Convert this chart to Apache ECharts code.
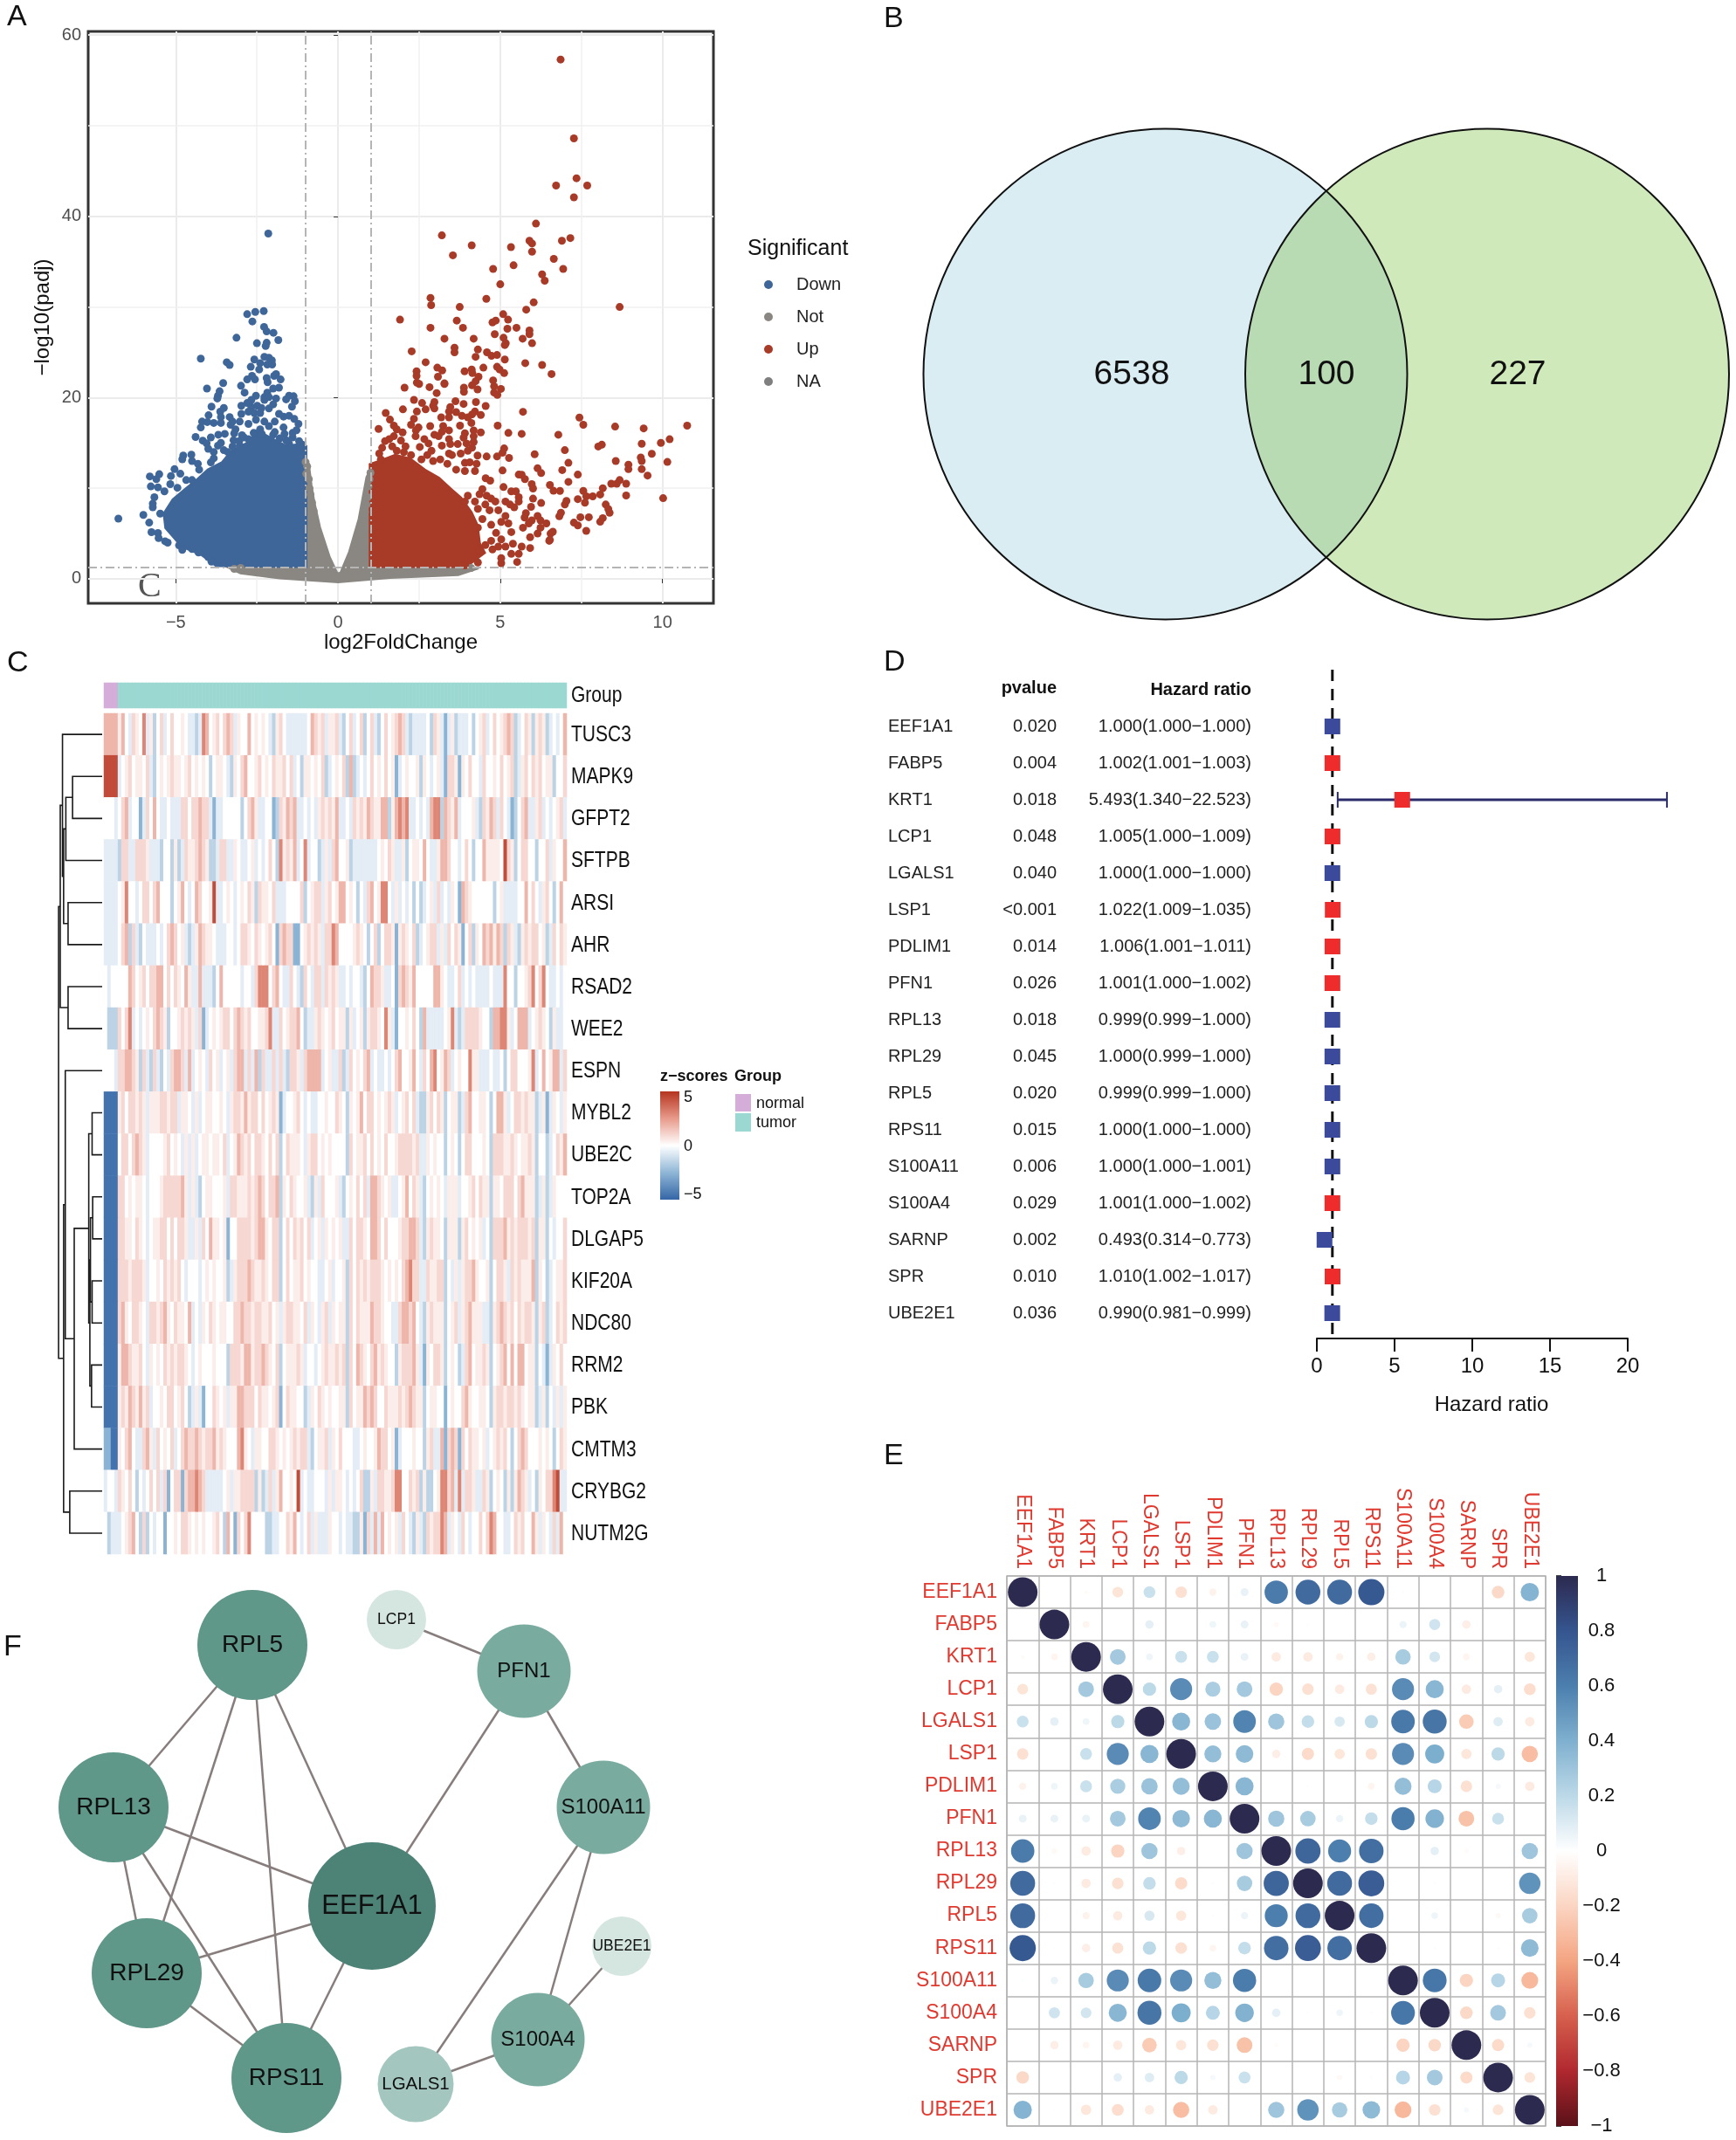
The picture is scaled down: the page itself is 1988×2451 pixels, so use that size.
<!DOCTYPE html>
<html><head><meta charset="utf-8"><title>Panels</title>
<style>html,body{margin:0;padding:0;background:#fff}#c{width:1988px;height:2451px}</style>
<script src="https://cdn.jsdelivr.net/npm/echarts@6/dist/echarts.min.js"></script></head>
<body><div id="c"></div>
<script>
// ---------- DATA ----------
const volcanoNot=[[-1,12.9],[-.95,12.4],[-.98,11.6],[-.9,11],[-.88,10],[-.85,9.3],[-.8,8.4],[-.75,7.5],[1,11.7],[.97,11],[.94,10.2],[.92,9],[.88,8.2],[.83,7.4],[-3.2,1.1],[-3,1.2],[3.9,1.3],[4.1,1.2]];
const volcanoNotCore=[[-1,12.6],[-.92,12.6],[-.84,10.3],[-.75,8.4],[-.58,5.7],[-.28,2.4],[-.03,.5],[.09,.6],[.36,2.9],[.66,6.6],[.8,9.3],[.9,11.2],[1,11.9],[1,1.5],[3.9,1.5],[4.2,1.1],[3.7,.5],[1.6,.2],[0,-.3],[-1.8,.15],[-3,.7],[-3.3,1.2],[-1,1.5]];
const volcanoDownCore=[[-1,14.6],[-1.15,14.8],[-1.59,14.6],[-2.04,15.4],[-2.49,16.3],[-2.76,15],[-3.29,14],[-3.56,12.8],[-4,12],[-4.37,10.8],[-4.72,9.8],[-5.08,8.7],[-5.35,7.2],[-5.3,5.65],[-5,4.4],[-4.8,3.6],[-4.2,2.7],[-3.75,1.5],[-1,1.4]];
const volcanoUpCore=[[1,12.6],[1.32,13],[1.76,13.6],[2.21,13.2],[2.66,12],[3.1,11.1],[3.46,9.9],[3.78,8.9],[4.1,7.3],[4.28,5.9],[4.35,3.9],[4.5,2.9],[4.09,1.8],[3.82,1.4],[1,1.4]];
const volcanoDown=[[-2.15,38.1],[-2.8,29.2],[-2.55,29.45],[-2.29,29.55],[-2.64,28.4],[-2.28,27.8],[-2.2,27.3],[-1.99,27.15],[-1.84,26.35],[-3.13,26.6],[-2.5,26],[-2.2,26.05],[-2.23,25.7],[-4.23,24.3],[-3.43,23.9],[-3.34,23.6],[-2.58,24.2],[-2.27,24.5],[-2.13,24.4],[-2.04,24.1],[-2.4,23.8],[-2.18,23.65],[-2.03,23.65],[-2.69,23.4],[-2.43,23.1],[-1.91,22.6],[-1.97,22.4],[-1.77,22],[-2.65,22.4],[-2.8,22],[-2.56,22],[-2.2,22.15],[-2.17,21.7],[-3.54,21.6],[-2.99,21.3],[-4.04,21],[-3.65,20.7],[-2.88,20.55],[-3.7,20.2],[-3.72,19.9],[-1.82,21.1],[-2,21],[-2.18,20.55],[-2.27,20.05],[-2.53,20.2],[-1.51,20.2],[-1.37,20.15],[-1.6,19.8],[-1.33,19.6],[-1.42,19],[-2.67,19.75],[-2.8,19.4],[-2.98,19.1],[-2.27,19.75],[-2.13,20.05],[-1.91,19.9],[-2,19.25],[-2.13,18.8],[-3.9,19],[-3.52,18.85],[-3.63,18.45],[-2.67,18.95],[-2.49,19.1],[-2.36,18.85],[-2.76,18.45],[-2.58,18.3],[-2.4,18.3],[-3.99,18.05],[-1.82,18.2],[-1.68,17.9],[-1.51,18],[-1.35,17.65],[-3.61,17.85],[-3.34,17.85],[-2.98,18.2],[-4.19,17.35],[-4.03,17.3],[-3.83,17.2],[-3.61,17.2],[-3.25,17.35],[-3.03,17.35],[-2.76,17.1],[-2.53,17.55],[-2.27,17.35],[-1.95,17.35],[-1.22,17.1],[-4.23,16.7],[-3.31,17],[-3.16,16.5],[-2.4,16.5],[-2.13,16.85],[-1.68,16.7],[-1.28,16.4],[-3.2,16.05],[-3.69,15.9],[-3.49,16],[-2.96,15.85],[-4.39,15.65],[-3.92,15.6],[-4.17,15.25],[-3.22,15.3],[-2.76,15.4],[-4.05,14.95],[-3.61,15],[-3.7,14.7],[-4,14.35],[-3.25,14.6],[-3.03,14.7],[-1.51,14.9],[-1.13,14.7],[-3.52,14.2],[-3.83,14],[-4.52,13.7],[-4.77,13.6],[-4.8,13.2],[-3.29,13.7],[-3.83,13.3],[-3.92,12.85],[-4.5,13],[-4.32,12.7],[-4.28,12.05],[-5.04,12.1],[-5.15,11.35],[-5.51,11.55],[-5.8,11.3],[-5.6,11],[-4.86,11.6],[-4.68,10.9],[-4.5,10.9],[-5.77,10.2],[-5.55,10.1],[-4.95,10.05],[-5.17,10.45],[-5.35,9.65],[-5.66,9],[-5.71,8.3],[-5.71,7.9],[-6,7.05],[-5.48,7.2],[-5.82,6.2],[-6.77,6.65],[-5.75,5.15],[-5.55,5.05],[-5.53,4.5],[-5.33,4.15],[-5.25,4],[-4.9,3.7],[-4.8,3.2],[-4.5,3.3],[-4.3,2.9],[-4,2.4],[-3.7,2.2],[-3.9,1.9],[-3.3,1.7],[-3.05,15.2],[-2.9,15.6],[-2.35,16],[-2,15.9],[-1.8,15.5],[-1.6,15.3],[-1.4,15.6],[-1.2,15.2],[-1.1,14.8],[-3.4,14],[-2.6,16.1],[-1.95,16.2],[-1.65,16],[-1.4,16.1]];
const volcanoUp=[[6.86,57.3],[7.27,48.6],[7.35,44.2],[6.72,43.4],[7.68,43.4],[7.27,42.1],[6.1,39.2],[3.2,37.9],[7.16,37.6],[6.9,37.3],[5.9,37.3],[5.98,37],[4.12,36.8],[5.33,36.6],[5.98,36.1],[3.54,35.7],[6.65,35.3],[5.41,34.6],[6.94,34.2],[4.78,34.2],[6.29,33.6],[6.37,32.9],[5,32.5],[2.85,31],[4.57,30.9],[6.03,30.5],[2.87,30.2],[3.75,30],[8.68,30],[5.8,29.7],[5.09,29.2],[5.24,28.6],[4.86,28.5],[4.76,28.3],[1.91,28.6],[3.66,28.5],[5.5,27.7],[5.22,27.6],[3.85,27.7],[2.85,27.7],[5.9,27.4],[5.9,27],[4.83,27],[3.28,26.5],[4.18,26.5],[5.1,26.6],[5.69,26.5],[5.17,26],[5.14,25.8],[5.98,26],[3.59,25.5],[3.59,25],[2.27,25.1],[4.31,25.3],[4.59,25],[4.24,24.5],[4.73,24.6],[4.9,24.7],[2.7,23.9],[5.77,23.8],[6.29,23.6],[5.14,24.2],[4.9,23.4],[4.98,23.1],[4.12,23.1],[4.48,23.3],[3.06,23.3],[3.9,22.9],[4.14,22.7],[3.21,23],[2.42,22.9],[2.42,22.4],[5.12,22.7],[6.58,22.6],[4.33,22.3],[3.08,22.3],[3.28,21.5],[4.78,21.9],[4.24,21.8],
[2.43,21.65],[2.5,21.5],[3.28,21.57],[4.13,21.35],[2.05,21.1],[2.82,21.15],[3.88,21.1],[3.88,20.64],[4.3,20.9],[4.81,21.25],[5.02,20.96],[3.04,20.5],[4.81,20.55],[4.91,20.3],[2.34,19.75],[2.59,19.4],[2.97,19.5],[2.93,19.1],[3.62,19.6],[3.87,19.3],[4.25,19.5],[4.55,19.07],[3.46,18.95],[2,18.7],[2.7,18.7],[2.43,18.46],[2.97,18.8],[1.47,18.3],[3.42,18.46],[3.64,18.4],[5.7,18.43],[4.22,18.46],[4.13,18.14],[4.4,18.08],[3.18,17.82],[3.42,17.82],[3.82,17.98],[4,17.82],[1.6,17.57],[2.34,17.66],[1.72,16.9],[2.25,17],[4.11,17.2],[3.76,16.9],[4.92,16.9],[1.25,16.54],[2.48,16.7],[2.84,16.86],[3.24,16.86],[1.81,16.5],[1.99,16.16],[2.4,16.38],[3.2,16.22],[3.42,16.38],[4.18,16.38],[4.4,16.16],[5.25,16.1],[5.66,16],[1.72,15.74],[1.58,15.42],[2.39,15.74],[3.91,16.06],[3.87,15.58],[2.66,15.42],[2.97,15.9],[3.1,15.74],[3.42,15.42],[4.18,15.74],[1.94,15.26],[1.45,15.2],[1.36,14.46],[1.27,13.82],[1.67,14.62],[1.81,14.14],[2.08,14.62],[2.52,14.55],[2.79,14.94],[3.2,14.7],[3.46,14.87],[3.69,14.87],[3.96,14.94],[4.18,15.1],[2.88,14.14],[4,14.14],[4.13,14.46],[5.12,14.39],[5.07,13.91],[5.27,13.34],[6.06,13.75],[3.78,13.82],[3.42,13.82],[4.3,13.6],[4.58,13.5],[4.9,13.5],[2.75,13.66],[2.25,13.66],[2.03,13.98],[3.15,13.18],[3.51,13.66],[1.32,13.18],[2.57,13.18],[2.93,13],[3.37,12.7],[3.91,12.8],[4.06,12.86],[4.27,12.7],[4.22,11.9],[3.91,11.9],[3.64,12.05],[6.15,12.2],[6.26,11.67],[5.07,11.96],[5.57,11.5],[5.66,11.48],[5.76,11],[4.55,11.1],[4.69,10.84],[5.97,10.45],[6.01,9.97],[6.53,10.35],[6.64,9.72],[5.1,10.13],[5.34,9.65],[5.48,9.65],[5.57,9],[5.57,8.53],[5.16,8.53],[5.3,8.2],[5.43,7.9],[6.01,8.85],[6.26,8.37],[5.95,7.95],[4.45,9.9],[4.36,9.33],[4.58,9.17],[4.72,8.85],[4.85,8.53],[4.22,8.53],[4.54,8.2],[4,9.17],[3.91,8.53],[4.31,7.73],[4.67,7.57],[4.94,7.57],[5.16,6.93],[5.79,7.25],[5.75,6.77],[6.15,6.93],[5.97,6.44],[6.24,6.44],[6.42,6.12],[5.88,6.12],[5.7,5.64],[6.24,5.64],[6.15,5],[4.45,6.6],[4.72,5.96],[5.03,6.28],[5.25,6.12],[5.34,5.16],[4.31,5.64],[4.87,5.07],[6.55,5],[6.51,4.2],[5.92,4.6],[5.03,4.36],[4.72,4.2],[4.94,3.56],[5.16,3.56],[5.39,3.88],[5.66,3.56],[5.92,3.4],[4.54,3.72],[5.57,2.76],[5.34,2.76],[5.03,2.28],[5.52,1.86],[4.31,1.8],[5.03,1.73],[3.91,1.48],[4.36,3.08],[4.76,3.24],
[7.44,17.8],[7.56,17],[8.54,16.8],[9.42,16.6],[10.76,16.9],[6.79,15.9],[9.36,14.9],[9.95,15],[10.22,15.4],[8.13,14.8],[8.02,14.6],[6.99,14.2],[9.67,13.8],[9.33,13.4],[9.36,13],[10.15,12.9],[8.56,13],[7.1,12.8],[8.95,12.6],[8.95,12.1],[9.36,12.1],[9.54,11.4],[6.91,12],[7.39,11.5],[7.1,10.7],[8.68,10.9],[8.59,10.5],[8.42,10.5],[8.88,10.5],[8.16,10],[6.84,9.7],[7.56,9.7],[7.65,9.1],[7.39,8.8],[7.61,8.4],[7.85,9.1],[8.08,9.3],[8.88,9.2],[10.02,8.9],[7.04,8.6],[6.99,8.2],[8.25,8.2],[8.33,7.7],[8.37,7.3],[6.87,7.3],[6.82,6.9],[7.47,6.8],[7.73,6.8],[8.16,6.7],[8.08,6.3],[7.27,6.2],[7.39,5.9],[7.65,5.3],[6.62,5.2],[6.53,4.3]];
const volcanoNA=[];
const volcanoTicksX=[-5,0,5,10], volcanoTicksY=[0,20,40,60];
const volcanoMinorX=[-2.5,2.5,7.5], volcanoMinorY=[10,30,50];
const volcanoCutsX=[-1,1], volcanoCutY=1.3;

const vennSets=[{name:'DEGs',c:[284.5,288.5],rx:277,ry:281,color:'#daedf2'},{name:'LRGs',c:[653,288.5],rx:277,ry:281,color:'#d0e9bb'}];
const vennOverlapColor='#b9dbb4';
const vennLabels=[{t:'DEGs',p:[248,-64]},{t:'LRGs',p:[689,-64]},{t:'6538',p:[246,289]},{t:'100',p:[469,289]},{t:'227',p:[688,289]}];

const heatGenes=['TUSC3','MAPK9','GFPT2','SFTPB','ARSI','AHR','RSAD2','WEE2','ESPN','MYBL2','UBE2C','TOP2A','DLGAP5','KIF20A','NDC80','RRM2','PBK','CMTM3','CRYBG2','NUTM2G'];
const zLevels=[-4.6,-2.6,-1.5,-.6,0,.45,1,1.8,3,4.4];
const heatRows=[
"7777574365 4835246346 4454332387 4564676354 4745454325 6433333347 656355 6324634624 6324645676 3233334265 3135233342 4563464567 6234652565 234347",
"9999345645 5463245456 5545645454 2455432546 7445645465 5646342554 546234 5462723434 6454645134 5445254345 3166515464 4364454645 6235646564 552446",
"4443467344 1364743343 3366466766 3133444442 4675334412 6576733434 356565 7334365657 6557725787 8334343788 2765734445 3265763643 1246733563 434563",
"3333266336 6653332442 5236556765 2236633543 3453434642 8565734834 423536 7445233333 3345465335 2455474335 7764434642 4475555496 5246644244 635447",
"3333458443 4664674442 4574347644 5933454345 4652655463 3344446245 663564 5774542436 7458843534 3424234536 3435417654 4444424533 3344746435 642474",
"3333467263 2433343467 6453235765 5433344346 6546545641 6766114565 653668 7444456542 4624665156 5462345663 5364651462 5476757626 5325656645 236465",
"4344444764 5646677464 6547533733 3247444443 4436888467 4336432643 663656 5334344324 7665334167 6574444477 5433463434 3333433384 4244568468 433434",
"4222646834 3454676524 4565653613 4545664676 5644556833 6456674233 565456 4552534525 6654853144 5464273333 3458323666 6544277885 3477734565 425334",
"4443667765 2632632436 7763734543 6453453677 3637263363 6326653677 773453 3623645467 3433434674 4574364784 5763454485 5333433424 6644458347 457736",
"0000564665 6535556656 6355435345 5445435665 7566464565 1344564343 344544 6542545746 6454565345 6463225646 5245523674 4554247753 4665655235 135435",
"0000466467 6534444564 5435353455 4554634576 5646654646 2465554356 645454 4442645564 6454644566 6656335454 4245424664 4454266655 6545565244 234657",
"0000664545 5434445666 6675353245 5444536655 5656764667 2546544532 536444 5324546463 7765453345 7465324545 4355534456 4655255466 6467555235 235444",
"0000665546 5434556646 4665335364 7554514466 6656775466 2464656463 453545 4533646654 7764644456 6776325655 4255525645 4534266675 6566656255 243446",
"0000666566 6534454656 5643444345 4544523566 6765565466 2464556454 433453 4452646565 6665454546 7866336556 6243535667 5445246653 6565557254 234556",
"0000675466 5436656754 6554734354 6545544667 6656655645 3566554635 435635 4552646555 7665443367 7674325655 5245635675 5533256765 6465665256 234656",
"0000577655 6435454656 5665434544 4544426665 7756676546 2455565344 345655 6562647654 6756544256 6675315466 5245423674 5565245674 7477455243 135464",
"0000565765 7563445466 4564235314 4654535577 6664655456 1465544235 465454 4552645576 7644655565 6765524554 4145446754 4554256656 6565455235 243535",
"1100546743 3675364546 3467667656 6756544478 5435544665 4545656632 455635 4644433454 4576645134 4454425633 7167616465 5453456564 2467644454 542465",
"3443654642 4346463614 6616778763 3333453556 6662523635 7445493433 444353 5543434622 5366556884 4656252245 8867383665 3365245425 2576534254 668933",
"4233345674 2624344144 5466545454 4564274164 6844442233 4465743463 533354 4343322516 3737454536 4325326566 8735436434 4646874433 4656447535 436374"];
const normalSamples=4, tumorSamples=128;
const dendroMerges={A:[53,[1,0],[2,0]],B:[65,'A',[3,0]],D:[61,[4,0],[5,0]],E:[69,'B','D'],C:[71,[0,0],'E'],F:[61,[6,0],[7,0]],G:[75,'C','F'],P1:[18,[9,0],[10,0]],P2:[17,[11,0],[12,0]],P3:[18,[13,0],[14,0]],P4:[21,'P2','P3'],P5:[19,[15,0],[16,0]],P6:[22,'P4','P5'],P7:[24,'P1','P6'],Q:[50,'P7',[17,0]],R:[66,[8,0],'Q'],V:[58,[18,0],[19,0]],S:[69,'R','V'],T:[78,'G','S']};

const coxGenes=['EEF1A1','FABP5','KRT1','LCP1','LGALS1','LSP1','PDLIM1','PFN1','RPL13','RPL29','RPL5','RPS11','S100A11','S100A4','SARNP','SPR','UBE2E1'];
const coxP=['0.020','0.004','0.018','0.048','0.040','<0.001','0.014','0.026','0.018','0.045','0.020','0.015','0.006','0.029','0.002','0.010','0.036'];
const coxHR=[1.000,1.002,5.493,1.005,1.000,1.022,1.006,1.001,.999,1.000,.999,1.000,1.000,1.001,.493,1.010,.990];
const coxLow=[1.000,1.001,1.340,1.000,1.000,1.009,1.001,1.000,.999,.999,.999,1.000,1.000,1.000,.314,1.002,.981];
const coxHigh=[1.000,1.003,22.523,1.009,1.000,1.035,1.011,1.002,1.000,1.000,1.000,1.000,1.001,1.002,.773,1.017,.999];

const corrMatrix=[
[1,0,-.02,-.13,.16,-.15,-.06,.07,.62,.70,.70,.78,.01,0,0,-.18,.38],
[0,1,-.05,0,.08,0,.05,.07,-.03,-.01,0,0,.06,.14,-.08,0,.005],
[-.02,-.05,1,.28,.05,.16,.16,.07,-.1,-.1,-.06,-.08,.27,.13,-.05,.005,-.12],
[-.13,0,.28,1,.2,.55,.26,.28,-.2,-.15,-.1,-.14,.55,.37,-.1,.08,-.16],
[.16,.08,.05,.2,1,.37,.31,.58,.3,.18,.12,.2,.63,.65,-.24,.1,-.1],
[-.15,0,.16,.55,.37,1,.33,.35,-.08,-.17,-.12,-.15,.55,.41,-.12,.2,-.3],
[-.06,.05,.16,.26,.31,.33,1,.37,0,-.01,0,-.05,.33,.22,-.15,.03,-.1],
[.07,.07,.07,.28,.58,.35,.37,1,.3,.27,.06,.18,.61,.39,-.28,.16,0],
[.62,-.03,-.1,-.2,.3,-.08,0,.3,1,.72,.6,.68,0,.08,-.02,.005,.3],
[.70,-.01,-.1,-.15,.18,-.17,-.01,.27,.72,1,.7,.76,0,-.01,0,0,.52],
[.70,0,-.06,-.1,.12,-.12,-.01,.06,.6,.7,1,.68,0,.05,0,-.03,.27],
[.78,.005,-.08,-.14,.2,-.15,-.05,.18,.68,.76,.68,1,0,.01,0,-.01,.35],
[.01,.06,.27,.55,.63,.55,.33,.61,0,0,0,0,1,.64,-.2,.22,-.32],
[0,.14,.13,.37,.65,.41,.22,.39,.08,-.01,.05,.01,.64,1,-.18,.28,-.15],
[.005,-.08,-.05,-.1,-.24,-.12,-.15,-.28,-.02,0,0,0,-.2,-.18,1,-.17,.03],
[-.18,0,.005,.08,.1,.2,.03,.16,.005,.005,-.03,-.01,.22,.28,-.17,1,-.13],
[.38,.005,-.12,-.16,-.1,-.3,-.1,0,.3,.52,.27,.35,-.32,-.15,.03,-.13,1]];
const corrColors=['#5a1118','#b0282f','#d6604d','#f4a582','#fbd5c2','#ffffff','#bcd9e8','#7fb0cf','#4c7fae','#35558f','#2c2a4f'];
const heatColors=['#3566a6','#8fb6d6','#ffffff','#e89a8b','#b5341f'];

const netNodes=[
{name:'RPL5',value:[289,84],d:126,fs:28,c:'#5f9789'},{name:'LCP1',value:[454,55],d:68,fs:17.5,c:'#d5e6e0'},
{name:'PFN1',value:[600,114],d:107,fs:24,c:'#79ab9f'},{name:'RPL13',value:[130,270],d:126,fs:28,c:'#5f9789'},
{name:'S100A11',value:[691,270],d:107,fs:24,c:'#79ab9f'},{name:'EEF1A1',value:[426,383],d:146,fs:31,c:'#4d8277'},
{name:'UBE2E1',value:[712,429],d:68,fs:17.5,c:'#d5e6e0'},{name:'RPL29',value:[168,460],d:126,fs:28,c:'#5f9789'},
{name:'S100A4',value:[616,536],d:107,fs:24,c:'#79ab9f'},{name:'RPS11',value:[328,580],d:126,fs:28,c:'#5f9789'},
{name:'LGALS1',value:[476,587],d:87,fs:20.5,c:'#a3c7be'}];
const netEdges=[['RPL5','RPL13'],['RPL5','RPL29'],['RPL5','RPS11'],['RPL5','EEF1A1'],['RPL13','EEF1A1'],['RPL13','RPL29'],['RPL13','RPS11'],['RPL29','EEF1A1'],['RPL29','RPS11'],['EEF1A1','RPS11'],['EEF1A1','PFN1'],['LCP1','PFN1'],['PFN1','S100A11'],['S100A11','S100A4'],['S100A11','LGALS1'],['S100A4','LGALS1'],['S100A4','UBE2E1']];

// ---------- BUILD ----------
const F='"Liberation Sans",Arial,sans-serif';
const minus=v=>String(v).replace('-','\u2212');
const grid=[],xAxis=[],yAxis=[],series=[],visualMap=[],graphic=[];
const addGrid=(g,x,y)=>{grid.push(g);const i=grid.length-1;xAxis.push(Object.assign({gridIndex:i},x));yAxis.push(Object.assign({gridIndex:i},y));return i;};
const hidden={show:false};
const txt=(t,x,y,fs,o={})=>graphic.push({type:'text',x,y,silent:true,style:Object.assign({text:t,fontSize:fs,fontFamily:F,fill:'#111',textAlign:'left',textVerticalAlign:'middle'},o)});
[['A',8,20],['B',1012,22],['C',8,760],['D',1012,759],['E',1012,1668],['F',4,1887]].forEach(a=>txt(a[0],a[1],a[2],34));

// A volcano
const a0=addGrid({left:101,top:36,width:716,height:655,show:true,borderColor:'#333',borderWidth:3,backgroundColor:'#fff'},
 {type:'value',min:-7.7,max:11.57,axisLine:{show:false},axisTick:{show:true,length:5,lineStyle:{color:'#333'},customValues:volcanoTicksX},
  axisLabel:{customValues:volcanoTicksX,fontSize:20,fontFamily:F,color:'#4d4d4d',margin:12,formatter:minus},splitLine:{show:true,lineStyle:{color:'#ebebeb',width:2}},
  name:'log2FoldChange',nameLocation:'middle',nameGap:32,nameTextStyle:{fontSize:24,fontFamily:F,color:'#111'}},
 {type:'value',min:-2.7,max:60.4,axisLine:{show:false},axisTick:{show:true,length:5,lineStyle:{color:'#333'},customValues:volcanoTicksY},
  axisLabel:{customValues:volcanoTicksY,fontSize:20,fontFamily:F,color:'#4d4d4d',margin:8,formatter:minus},splitLine:{show:true,lineStyle:{color:'#ebebeb',width:2}},
  name:'\u2212log10(padj)',nameLocation:'middle',nameGap:40,nameTextStyle:{fontSize:24,fontFamily:F,color:'#111'}});
series.push({type:'scatter',silent:true,xAxisIndex:a0,yAxisIndex:a0,data:[],z:1,markLine:{z:1,silent:true,symbol:'none',label:{show:false},animation:false,lineStyle:{color:'#f1f1f1',width:1.5,type:'solid'},
  data:volcanoMinorX.map(v=>({xAxis:v})).concat(volcanoMinorY.map(v=>({yAxis:v})))}});
const poly=(pts,color,z)=>({type:'custom',silent:true,xAxisIndex:a0,yAxisIndex:a0,z,data:[0],renderItem:(p,api)=>({type:'polygon',shape:{points:pts.map(q=>api.coord(q))},style:{fill:color,stroke:color,lineWidth:4}})});
const cBlue='#3f6698',cGray='#8a8783',cRed='#a83a28';
series.push(poly(volcanoNotCore,cGray,2),poly(volcanoDownCore,cBlue,3),poly(volcanoUpCore,cRed,3));
[['Down',volcanoDown,cBlue],['Not',volcanoNot,cGray],['Up',volcanoUp,cRed],['NA',volcanoNA,'#7f7f7f']].forEach(s=>series.push({name:s[0],type:'scatter',xAxisIndex:a0,yAxisIndex:a0,data:s[1],symbolSize:9,z:3,itemStyle:{color:s[2],opacity:1}}));
series.push({type:'scatter',silent:true,xAxisIndex:a0,yAxisIndex:a0,data:[],z:6,markLine:{z:7,silent:true,symbol:'none',label:{show:false},animation:false,lineStyle:{color:'#b5b5b5',width:2,type:[10,4,2,4]},
  data:volcanoCutsX.map(v=>({xAxis:v})).concat([{yAxis:volcanoCutY}])}});
txt('Significant',856,285,25);
txt('C',158,672,40,{fontFamily:'"Liberation Serif",serif',fill:'#555'});

// B venn
const b0=addGrid({left:1050,top:140,width:938,height:580,show:false},Object.assign({type:'value',min:0,max:938},hidden),Object.assign({type:'value',min:0,max:580,inverse:true},hidden));
const ell=(s,api)=>{const c=api.coord(s.c),z=api.size([s.rx,s.ry]);return {cx:c[0],cy:c[1],rx:z[0],ry:z[1]};};
series.push({type:'custom',silent:true,xAxisIndex:b0,yAxisIndex:b0,z:2,data:[0],renderItem:(p,api)=>{
 const L=ell(vennSets[0],api),R=ell(vennSets[1],api),st={fill:'none',stroke:'#111',lineWidth:2};
 return {type:'group',children:[
  {type:'ellipse',shape:L,style:{fill:vennSets[0].color}},
  {type:'ellipse',shape:R,style:{fill:vennSets[1].color}},
  {type:'ellipse',shape:R,style:{fill:vennOverlapColor},clipPath:{type:'ellipse',shape:L}},
  {type:'ellipse',shape:L,style:st},{type:'ellipse',shape:R,style:st}]};}});
series.push({type:'scatter',silent:true,xAxisIndex:b0,yAxisIndex:b0,z:4,symbolSize:1,itemStyle:{opacity:0},data:vennLabels.map(l=>({value:l.p,label:{show:true,opacity:1,position:'inside',formatter:l.t,fontSize:39,fontFamily:F,color:'#111'}}))});

// C heatmap
const heatCols=normalSamples+tumorSamples;
const colIdx=[...Array(heatCols).keys()];
const heatData=[];heatRows.forEach((s,r)=>{const t=s.replace(/ /g,'');colIdx.forEach(c=>heatData.push([c,r,zLevels[+(t[c]||4)]]));});
const sideLabel=(i,names)=>(p,api)=>{const y=api.coord([0,p.dataIndex])[1]+1;return {type:'text',x:p.coordSys.x+p.coordSys.width+5,y,scaleX:.84,style:{text:names[p.dataIndex],x:0,y:0,textAlign:'left',textVerticalAlign:'middle',fontSize:25,fontFamily:F,fill:'#111'}};};
const an=addGrid({left:119,top:782,width:530,height:29},Object.assign({type:'category',data:colIdx},hidden),
 {type:'category',data:['Group'],axisLine:{show:false},axisTick:{show:false},axisLabel:{show:false}});
series.push({type:'heatmap',silent:true,xAxisIndex:an,yAxisIndex:an,data:colIdx.map(c=>[c,0,c<normalSamples?0:1])});
visualMap.push({show:false,type:'continuous',min:0,max:1,seriesIndex:series.length-1,dimension:2,inRange:{color:['#d4aed8','#9bd8d2']}});
series.push({type:'custom',silent:true,xAxisIndex:an,yAxisIndex:an,data:[0],encode:{x:null},renderItem:sideLabel(0,['Group'])});
const hm=addGrid({left:119,top:817,width:530,height:963},Object.assign({type:'category',data:colIdx},hidden),
 {type:'category',data:heatGenes,inverse:true,axisLine:{show:false},axisTick:{show:false},axisLabel:{show:false}});
series.push({type:'heatmap',silent:true,xAxisIndex:hm,yAxisIndex:hm,data:heatData,itemStyle:{borderWidth:0}});
visualMap.push({show:false,type:'continuous',min:-5,max:5,seriesIndex:series.length-1,dimension:2,inRange:{color:heatColors}});
series.push({type:'custom',silent:true,xAxisIndex:hm,yAxisIndex:hm,data:heatGenes.map((g,i)=>i),renderItem:sideLabel(0,heatGenes)});
// dendrogram
const dg=addGrid({left:53,top:817,width:64,height:963},Object.assign({type:'value',min:0,max:100,inverse:true},hidden),Object.assign({type:'value',min:-.5,max:19.5,inverse:true},hidden));
const nodePos={};const nodeAt=k=>{if(Array.isArray(k))return {r:k[0],h:k[1]};if(!nodePos[k]){const m=dendroMerges[k],a=nodeAt(m[1]),b=nodeAt(m[2]);nodePos[k]={r:(a.r+b.r)/2,h:m[0]};}return nodePos[k];};
const dKeys=Object.keys(dendroMerges);
series.push({type:'custom',silent:true,xAxisIndex:dg,yAxisIndex:dg,data:dKeys.map((k,i)=>i),renderItem:(p,api)=>{const m=dendroMerges[dKeys[p.dataIndex]],a=nodeAt(m[1]),b=nodeAt(m[2]);
 return {type:'polyline',shape:{points:[[a.h,a.r],[m[0],a.r],[m[0],b.r],[b.h,b.r]].map(q=>api.coord(q))},style:{stroke:'#1a1a1a',lineWidth:1.6,fill:'none'}};}});
// heat colorbar
const barGrad=(cols)=>new echarts.graphic.LinearGradient(0,1,0,0,cols.map((c,i)=>({offset:i/(cols.length-1),color:c})));
const hc=addGrid({left:756,top:1250,width:22,height:124},Object.assign({type:'value',min:0,max:1},hidden),
 {type:'value',min:-5.5,max:5.6,position:'right',axisLine:{show:false},axisTick:{show:true,inside:true,length:6,lineStyle:{color:'#fff',width:1.5},customValues:[-5,0,5]},splitLine:{show:false},
  axisLabel:{customValues:[-5,0,5],fontSize:18,fontFamily:F,color:'#111',margin:5,formatter:minus}});
series.push({type:'custom',silent:true,xAxisIndex:hc,yAxisIndex:hc,data:[0],z:1,renderItem:(p,api)=>{const a=api.coord([0,5.6]),b=api.coord([1,-5.5]);return {type:'rect',shape:{x:a[0],y:a[1],width:b[0]-a[0],height:b[1]-a[1]},style:{fill:barGrad(heatColors)}};}});
txt('z\u2212scores',756,1233,18,{fontWeight:'bold'});txt('Group',841,1233,18,{fontWeight:'bold'});
graphic.push({type:'rect',shape:{x:842,y:1253,width:18,height:20},style:{fill:'#d4aed8'},silent:true},{type:'rect',shape:{x:842,y:1275,width:18,height:21},style:{fill:'#9bd8d2'},silent:true});
txt('normal',866,1264,18);txt('tumor',866,1286,18);

// D forest
const fo=addGrid({left:1508,top:767,width:356,height:766},
 {type:'value',min:0,max:20,interval:5,axisLine:{show:true,onZero:false,lineStyle:{color:'#111',width:2}},axisTick:{show:true,length:15,lineStyle:{color:'#111',width:2}},splitLine:{show:false},axisLabel:{fontSize:24,fontFamily:F,color:'#111',margin:20}},
 Object.assign({type:'value',min:-1.548,max:16.69,inverse:true},hidden));
series.push({type:'line',silent:true,xAxisIndex:fo,yAxisIndex:fo,symbol:'none',z:1,data:[[1,-1.548],[1,16.69]],lineStyle:{color:'#111',width:3,type:[13,9]}});
series.push({type:'custom',silent:true,xAxisIndex:fo,yAxisIndex:fo,z:2,data:coxGenes.map((g,i)=>i),renderItem:(p,api)=>{const i=p.dataIndex,a=api.coord([coxLow[i],i]),b=api.coord([coxHigh[i],i]),s={stroke:'#2b2b6b',lineWidth:3};
 return {type:'group',children:[{type:'line',shape:{x1:a[0],y1:a[1],x2:b[0],y2:b[1]},style:s},{type:'line',shape:{x1:a[0],y1:a[1]-9,x2:a[0],y2:a[1]+9},style:{stroke:'#2b2b6b',lineWidth:2}},{type:'line',shape:{x1:b[0],y1:b[1]-9,x2:b[0],y2:b[1]+9},style:{stroke:'#2b2b6b',lineWidth:2}}]};}});
series.push({type:'scatter',silent:true,xAxisIndex:fo,yAxisIndex:fo,z:3,symbol:'rect',symbolSize:18,data:coxHR.map((v,i)=>[v,i]),itemStyle:{opacity:1,color:p=>p.value[0]>1?'#ee2c2c':'#3c4a9c'}});
series.push({type:'custom',silent:true,xAxisIndex:fo,yAxisIndex:fo,z:4,data:coxGenes.map((g,i)=>i),renderItem:(p,api)=>{const i=p.dataIndex,c=api.coord([0,i]),t=(text,dx,al)=>({type:'text',style:{text,x:c[0]+dx,y:c[1],textAlign:al,textVerticalAlign:'middle',fontSize:20,fontFamily:F,fill:'#222'}});
 return {type:'group',children:[t(coxGenes[i],-491,'left'),t(coxP[i],-298,'right'),t(coxHR[i].toFixed(3)+'('+coxLow[i].toFixed(3)+'\u2212'+coxHigh[i].toFixed(3)+')',-75,'right')]};}});
txt('pvalue',1210,788,20,{fontWeight:'bold',textAlign:'right'});txt('Hazard ratio',1433,790,20,{fontWeight:'bold',textAlign:'right'});
txt('Hazard ratio',1708,1609,24,{textAlign:'center'});

// E corrplot
const co=addGrid({left:1153,top:1805,width:617,height:630,show:true,borderColor:'#b5b5b5',borderWidth:1.5,backgroundColor:'#fff'},
 {type:'category',data:coxGenes,position:'top',axisLine:{show:false},axisTick:{show:false},splitLine:{show:true,interval:0,lineStyle:{color:'#b5b5b5',width:1.5}},axisLabel:{rotate:90,interval:0,fontSize:23,fontFamily:F,color:'#e0392f',margin:8}},
 {type:'category',data:coxGenes,inverse:true,axisLine:{show:false},axisTick:{show:false},splitLine:{show:true,interval:0,lineStyle:{color:'#b5b5b5',width:1.5}},axisLabel:{interval:0,fontSize:23,fontFamily:F,color:'#e0392f',margin:11}});
const corrData=[];corrMatrix.forEach((row,r)=>row.forEach((v,c)=>{if(v!==0)corrData.push([c,r,v]);}));
series.push({type:'scatter',silent:true,xAxisIndex:co,yAxisIndex:co,z:3,data:corrData,itemStyle:{opacity:1},symbolSize:d=>34*Math.sqrt(Math.abs(d[2]))});
visualMap.push({show:false,type:'continuous',min:-1,max:1,seriesIndex:series.length-1,dimension:2,inRange:{color:corrColors}});
const cb=addGrid({left:1782,top:1805,width:25,height:630},Object.assign({type:'value',min:0,max:1},hidden),
 {type:'value',min:-1,max:1,interval:.2,position:'right',axisLine:{show:false},axisTick:{show:true,length:6,lineStyle:{color:'#111',width:1.5}},splitLine:{show:false},
  axisLabel:{fontSize:22,fontFamily:F,color:'#111',margin:27,align:'center',formatter:minus}});
series.push({type:'custom',silent:true,xAxisIndex:cb,yAxisIndex:cb,data:[0],renderItem:(p,api)=>{const a=api.coord([0,1]),b=api.coord([1,-1]);return {type:'rect',shape:{x:a[0],y:a[1],width:b[0]-a[0],height:b[1]-a[1]},style:{fill:barGrad(corrColors)}};}});

// F network
const ne=addGrid({left:0,top:1800,width:800,height:651,show:false},Object.assign({type:'value',min:0,max:800},hidden),Object.assign({type:'value',min:0,max:651,inverse:true},hidden));
series.push({type:'graph',silent:true,coordinateSystem:'cartesian2d',xAxisIndex:ne,yAxisIndex:ne,layout:'none',roam:false,
 data:netNodes.map(n=>({name:n.name,value:n.value,symbolSize:n.d,itemStyle:{color:n.c,opacity:1},label:{show:true,position:'inside',fontSize:n.fs,fontFamily:F,color:'#111'}})),
 links:netEdges.map(e=>({source:e[0],target:e[1]})),lineStyle:{color:'#877d7d',width:2.5,opacity:1,curveness:0}});

const chart=echarts.init(document.getElementById('c'),null,{width:1988,height:2451,renderer:'canvas'});
chart.setOption({animation:false,backgroundColor:'#ffffff',grid,xAxis,yAxis,series,visualMap,graphic:{elements:graphic},
 legend:{show:true,data:['Down','Not','Up','NA'].map(n=>({name:n,icon:'circle'})),orient:'vertical',left:870,top:311,itemWidth:10,itemHeight:10,itemGap:17,selectedMode:false,textStyle:{fontSize:20,fontFamily:F,color:'#222',padding:[0,0,0,22]}}});
</script></body></html>
